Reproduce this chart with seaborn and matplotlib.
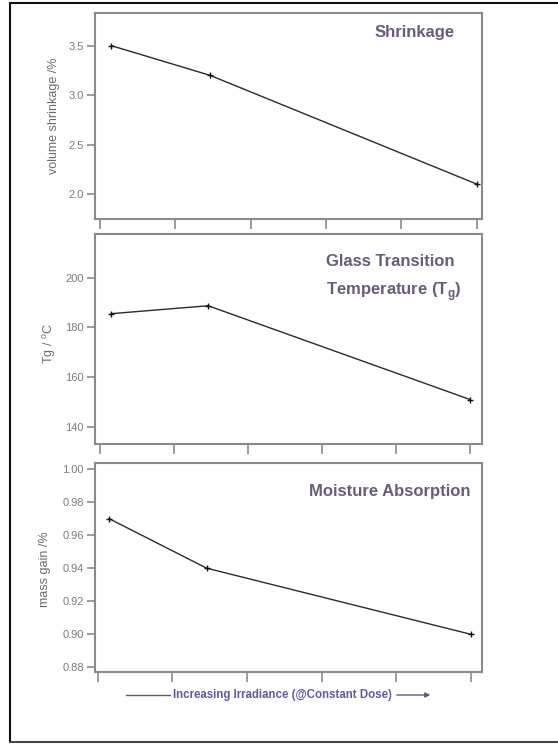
import matplotlib
matplotlib.use("Agg")
import matplotlib.pyplot as plt
import seaborn as sns
import pandas as pd
from matplotlib.lines import Line2D
from matplotlib.patches import FancyArrowPatch

# ---- data ----
irradiance = [0.15, 1.46, 5.0]          # relative position along increasing irradiance
shrinkage = [3.5, 3.2, 2.1]             # volume shrinkage /%
tg = [185.5, 188.7, 150.9]              # Tg / °C
moisture = [0.970, 0.940, 0.900]        # mass gain /%

x_ticks = [0, 1, 2, 3, 4, 5]
shrink_ticks = [2.0, 2.5, 3.0, 3.5]
tg_ticks = [140, 160, 180, 200]
moist_ticks = [0.88, 0.90, 0.92, 0.94, 0.96, 0.98, 1.00]

titles = ["Shrinkage", "Glass Transition\nTemperature (T$_\\mathregular{g}$)", "Moisture Absorption"]
ylabels = ["volume shrinkage /%", "Tg / $^\\mathregular{o}$C", "mass gain /%"]
xlabel = "Increasing Irradiance (@Constant Dose)"

sns.set_style("white")
plt.rcParams['font.family'] = ['Liberation Sans', 'DejaVu Sans']
plt.rcParams['mathtext.fontset'] = 'custom'
plt.rcParams['mathtext.rm'] = 'Liberation Sans'
plt.rcParams['mathtext.bf'] = 'Liberation Sans:bold'

W, H = 558, 744
fig = plt.figure(figsize=(W / 100, H / 100), dpi=100)
fig.patch.set_facecolor("white")

def box(x0, y0, x1, y1):
    return [x0 / W, 1 - y1 / H, (x1 - x0) / W, (y1 - y0) / H]

ax1 = fig.add_axes(box(95, 13, 482, 219))
ax2 = fig.add_axes(box(95, 234, 482, 444))
ax3 = fig.add_axes(box(95, 463, 482, 672))

spine_c = "#8a8a8a"
tick_c = "#7a7a7a"
title_c = "#6a5a7c"

panels = [
    (ax1, shrinkage, shrink_ticks, (1.747, 3.83), (-0.066, 5.07), "{:.1f}", -0.090, 0.50),
    (ax2, tg, tg_ticks, (133.0, 217.6), (-0.068, 5.16), "{:.0f}", -0.096, 0.48),
    (ax3, moisture, moist_ticks, (0.8772, 1.0036), (-0.036, 5.15), "{:.2f}", -0.114, 0.49),
]
title_pos = [(0.930, 0.903, "right"), (0.597, 0.79, "left"), (0.970, 0.866, "right")]

for i, (ax, yv, yt, ylim, xlim, fmt, lx, ly) in enumerate(panels):
    df = pd.DataFrame({"x": irradiance, "y": yv})
    sns.lineplot(data=df, x="x", y="y", ax=ax, color="#2a2a2a", linewidth=1.0,
                 marker="+", markersize=5, markeredgewidth=1.0, markeredgecolor="#111111")
    ax.set_xlim(*xlim)
    ax.set_ylim(*ylim)
    ax.set_xticks(x_ticks)
    ax.set_xticklabels([])
    ax.set_yticks(yt)
    ax.set_yticklabels([fmt.format(v) for v in yt], fontsize=8, color=tick_c)
    ax.tick_params(axis="both", direction="out", length=6, width=1.2, color=spine_c,
                   pad=2, bottom=True, left=True)
    ax.tick_params(axis="x", length=7)
    for s in ax.spines.values():
        s.set_color(spine_c)
        s.set_linewidth(1.5)
    ax.set_xlabel("")
    ax.set_ylabel(ylabels[i], fontsize=9, color="#6a6a6a")
    ax.yaxis.set_label_coords(lx, ly)
    tx, ty, tha = title_pos[i]
    ax.text(tx, ty, titles[i], transform=ax.transAxes, ha=tha, va="center",
            multialignment="left", fontsize=12, fontweight="bold", color=title_c,
            linespacing=1.75)

# x-axis caption with arrow
fig.text(282 / W, 1 - 695 / H, xlabel, ha="center", va="center", fontsize=8.3,
         fontweight="bold", color="#6656a0")
fig.add_artist(Line2D([126 / W, 170 / W], [1 - 695 / H] * 2, color="#5a5a7a", lw=1.0))
fig.add_artist(FancyArrowPatch((394 / W, 1 - 695 / H), (433 / W, 1 - 695 / H),
                               transform=fig.transFigure, arrowstyle="-|>",
                               mutation_scale=7, color="#5a5a7a", lw=1.0))

# outer frame (top, left, bottom)
fc = "#111111"
fig.add_artist(Line2D([10 / W, 1.0], [1 - 3 / H] * 2, color=fc, lw=1.5))
fig.add_artist(Line2D([10 / W, 10 / W], [1 - 3 / H, 1 - 742 / H], color=fc, lw=1.5))
fig.add_artist(Line2D([10 / W, 1.0], [1 - 742 / H] * 2, color="#444444", lw=1.5))

fig.savefig("out.png", dpi=100, facecolor="white")
